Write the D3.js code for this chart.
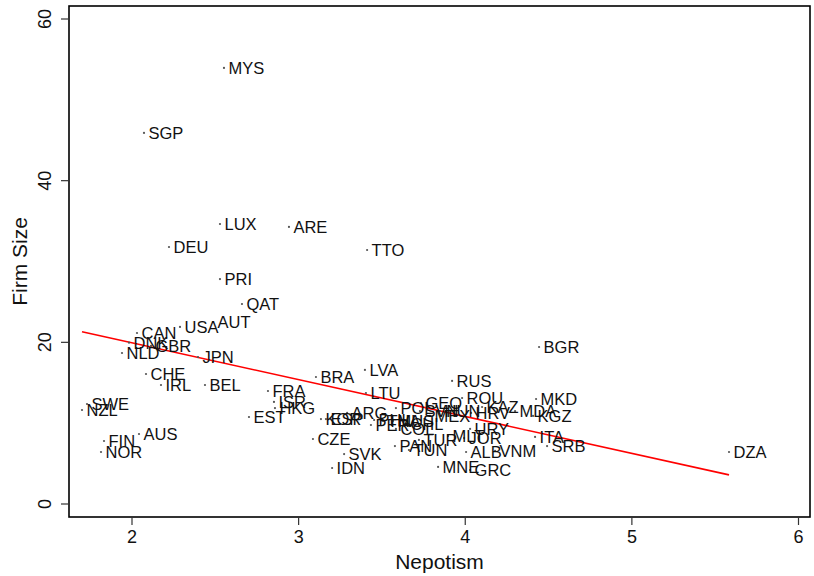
<!DOCTYPE html>
<html>
<head>
<meta charset="utf-8">
<script src="https://cdn.jsdelivr.net/npm/d3@7"></script>
<style>
  html, body { margin: 0; padding: 0; background: #fff; }
  svg { display: block; font-family: "Liberation Sans", Arial, Helvetica, sans-serif; }
</style>
</head>
<body>
<svg id="chart" width="814" height="576"></svg>
<script>
// Country codes with nepotism score (x) and average firm size (y)
const countries = ["MYS","SGP","LUX","ARE","DEU","TTO","PRI","QAT","AUT","USA","CAN","DNK","GBR","NLD","JPN",
  "CHE","IRL","BEL","FRA","ISR","HKG","EST","SWE","NZL","AUS","FIN","NOR","BRA","LVA","LTU","RUS","ROU","MKD",
  "BGR","KAZ","MDA","KGZ","HRV","URY","ITA","SRB","VNM","ALB","JOR","MNE","GRC","ARG","KOR","ESP","CZE","SVK",
  "IDN","PER","PHL","THA","MUS","COL","CHL","POL","GEO","SVN","MEX","HUN","PAN","TUN","TUR","MLT","DZA"];
const nepotism = [2.555,2.075,2.531,2.945,2.225,3.414,2.531,2.663,2.489,2.291,2.033,1.985,2.117,1.943,2.399,
  2.087,2.177,2.441,2.819,2.855,2.861,2.705,1.733,1.703,2.045,1.835,1.817,3.107,3.401,3.407,3.924,3.984,4.428,
  4.446,4.104,4.302,4.410,4.038,4.032,4.422,4.494,4.182,4.008,3.996,3.840,4.032,3.294,3.137,3.167,3.089,3.276,
  3.204,3.437,3.456,3.510,3.569,3.587,3.647,3.587,3.737,3.731,3.791,3.852,3.581,3.665,3.725,3.900,5.586];
const firmSize = [53.88,45.84,34.58,34.21,31.73,31.36,27.77,24.68,22.45,21.84,21.09,19.89,19.49,18.62,18.12,
  16.02,14.66,14.66,13.92,12.56,11.81,10.70,12.31,11.57,8.60,7.73,6.37,15.65,16.52,13.67,15.16,13.05,12.93,
  19.36,11.94,11.44,10.83,11.20,9.22,8.23,7.11,6.50,6.37,8.10,4.52,4.14,11.20,10.45,10.45,7.98,6.12,
  4.39,9.71,10.33,10.21,10.21,9.22,9.84,11.81,12.43,11.44,10.83,11.44,7.11,6.62,7.86,8.35,6.37];

// Linear fit: firmSize = fitIntercept + fitSlope * nepotism, over the observed nepotism range
const fitIntercept = 29.02;
const fitSlope = -4.561;

// Axis ticks and titles
const xTicks = [2, 3, 4, 5, 6];
const yTicks = [0, 20, 40, 60];
const xTitle = "Nepotism";
const yTitle = "Firm Size";

const svg = d3.select("#chart");
const plot = { left: 69, right: 810, top: 6, bottom: 517 };

const x = d3.scaleLinear().domain([2, 6]).range([131.5, 798]);
const y = d3.scaleLinear().domain([0, 60]).range([503.5, 18.5]);

const textColor = "#111";

// Plot frame
svg.append("rect")
  .attr("x", plot.left).attr("y", plot.top)
  .attr("width", plot.right - plot.left).attr("height", plot.bottom - plot.top)
  .attr("fill", "none").attr("stroke", "#000").attr("stroke-width", 1.6);

// X axis
const gx = svg.append("g")
  .attr("transform", `translate(0,${plot.bottom})`)
  .call(d3.axisBottom(x).tickValues(xTicks).tickSize(8).tickPadding(5).tickFormat(d3.format("d")));
gx.select(".domain").remove();
gx.selectAll(".tick line").attr("stroke", "#333").attr("stroke-width", 1.2);
gx.selectAll(".tick text").attr("fill", textColor).style("font-size", "18px");

// Y axis, labels rotated to read upwards
const gy = svg.append("g")
  .attr("transform", `translate(${plot.left},0)`)
  .call(d3.axisLeft(y).tickValues(yTicks).tickSize(8).tickFormat(d3.format("d")));
gy.select(".domain").remove();
gy.selectAll(".tick line").attr("stroke", "#333").attr("stroke-width", 1.2);
gy.selectAll(".tick text")
  .attr("fill", textColor).style("font-size", "18px")
  .attr("x", 0).attr("dy", null)
  .attr("transform", "translate(-18,0) rotate(-90)")
  .attr("text-anchor", "middle")
  .attr("dominant-baseline", "auto");

// Axis titles
svg.append("text")
  .attr("x", (plot.left + plot.right) / 2).attr("y", 569)
  .attr("text-anchor", "middle").attr("fill", textColor)
  .style("font-size", "21px").text(xTitle);
svg.append("text")
  .attr("transform", `translate(27,${(plot.top + plot.bottom) / 2}) rotate(-90)`)
  .attr("text-anchor", "middle").attr("fill", textColor)
  .style("font-size", "21px").text(yTitle);

const data = countries.map((c, i) => ({ code: c, nx: nepotism[i], fs: firmSize[i] }));

// Fitted line
const xMin = d3.min(nepotism), xMax = d3.max(nepotism);
svg.append("line")
  .attr("x1", x(xMin)).attr("y1", y(fitIntercept + fitSlope * xMin))
  .attr("x2", x(xMax)).attr("y2", y(fitIntercept + fitSlope * xMax))
  .attr("stroke", "#ff0000").attr("stroke-width", 1.6);

// Point markers
svg.append("g").selectAll("circle").data(data).join("circle")
  .attr("cx", d => x(d.nx)).attr("cy", d => y(d.fs))
  .attr("r", 1.1).attr("fill", "#555");

// Marker labels to the right of each point
svg.append("g").selectAll("text").data(data).join("text")
  .attr("x", d => x(d.nx) + 4.5).attr("y", d => y(d.fs))
  .attr("dy", "0.36em")
  .attr("fill", textColor)
  .style("font-size", "16.5px")
  .text(d => d.code);
</script>
</body>
</html>
